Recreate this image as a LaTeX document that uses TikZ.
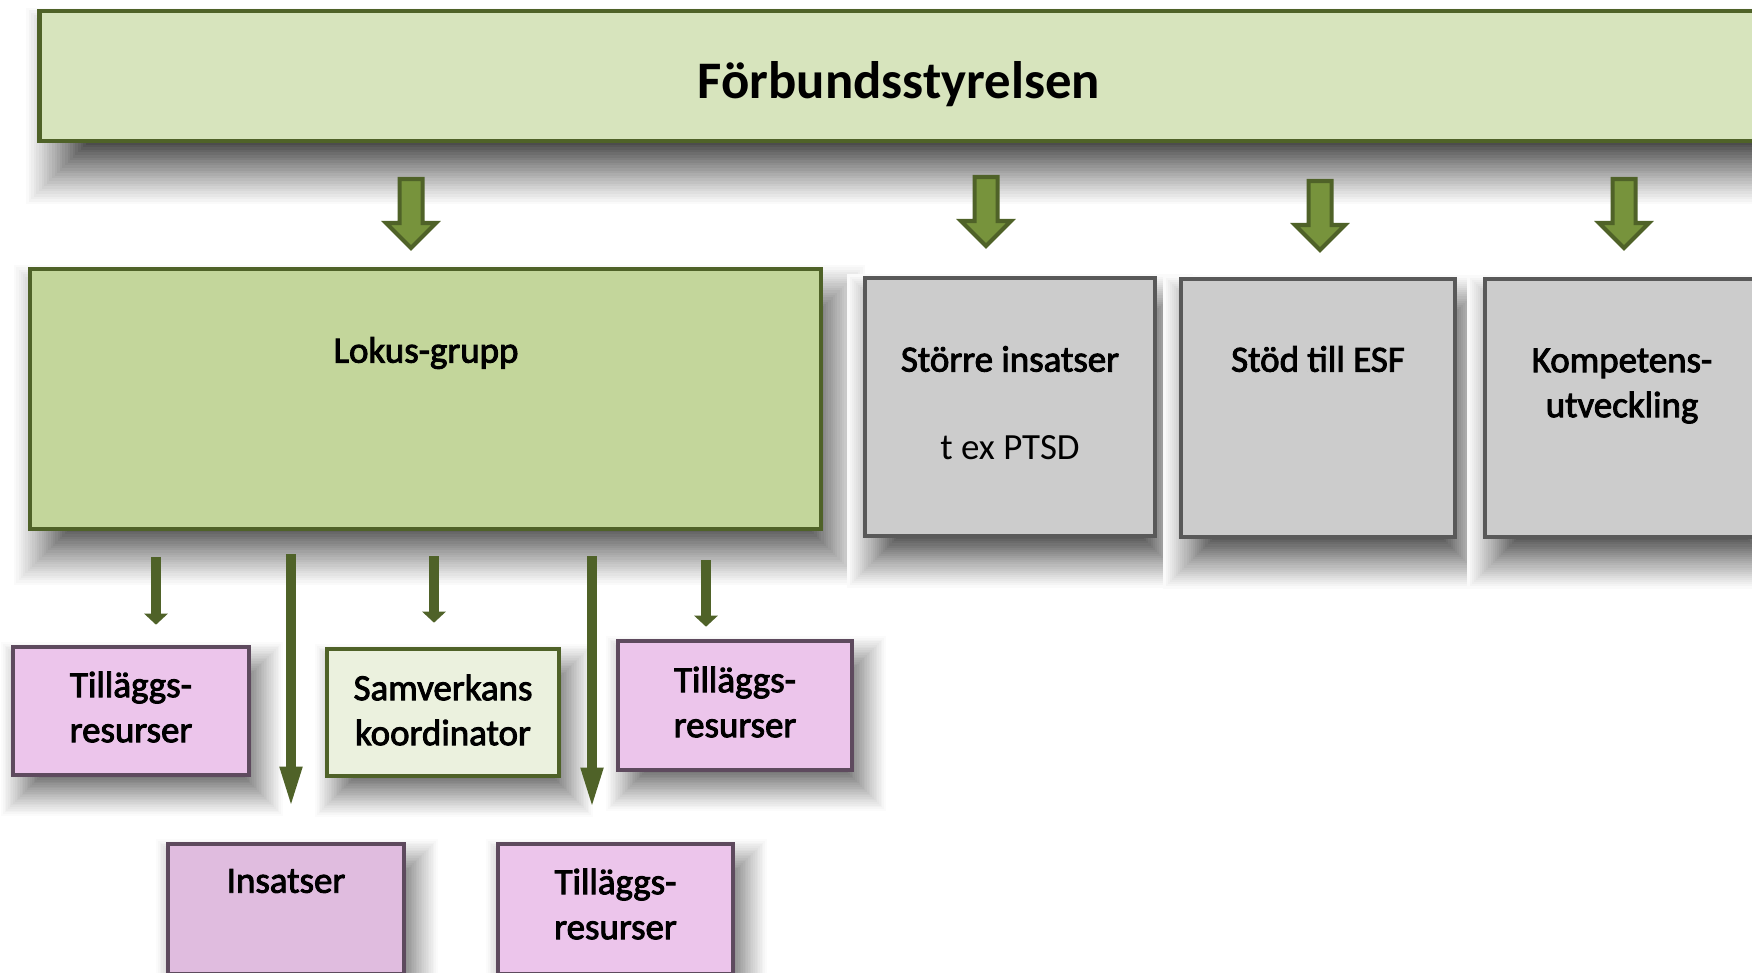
\documentclass[tikz,border=0pt]{standalone}
\usepackage{fontspec}
\setmainfont{Carlito}
\newfontfamily\labelfont[FakeBold=2.5]{Carlito}
\usetikzlibrary{arrows.meta,calc}
\definecolor{olivedark}{HTML}{4F6228}
\definecolor{topfill}{HTML}{D7E4BD}
\definecolor{lokusfill}{HTML}{C3D69B}
\definecolor{arrowfill}{HTML}{77933C}
\definecolor{grayfill}{HTML}{CCCCCC}
\definecolor{grayedge}{HTML}{595959}
\definecolor{pinkfill}{HTML}{ECC5EB}
\definecolor{pinkdark}{HTML}{E0BCDF}
\definecolor{pinkedge}{HTML}{5E4A5E}
\definecolor{palefill}{HTML}{EBF1DE}
\pgfdeclarelayer{paper}
\pgfdeclarelayer{shade}
\pgfsetlayers{paper,shade,main}
% soft drop shadow drawn as nested opaque greys on white:
% node, dx, dy, step, darkest percent
\newcommand\dropshadow[5]{%
  \begin{pgfonlayer}{shade}
  \foreach \k in {0,...,23}{%
    \pgfmathsetmacro\e{(12-\k)*#4}%
    \pgfmathsetmacro\p{#5*((\k+1)/24)^1.1}%
    \pgfmathsetmacro\ax{#2-\e}%
    \pgfmathsetmacro\ay{#3+\e}%
    \pgfmathsetmacro\bx{#2+\e}%
    \pgfmathsetmacro\by{#3-\e}%
    \colorlet{shadecol}{black!\p!white}%
    \fill[shadecol]
      ($(#1.south west)+(\ax,\ay)$) rectangle ($(#1.north east)+(\bx,\by)$);
  }%
  \end{pgfonlayer}}
\begin{document}
\begin{tikzpicture}[x=0.01cm,y=-0.01cm,
  box/.style={draw, rectangle, line width=0.045cm, inner sep=0pt},
  topbox/.style={box, draw=olivedark, fill=topfill},
  lokusbox/.style={box, draw=olivedark, fill=lokusfill},
  graybox/.style={box, draw=grayedge, fill=grayfill},
  pinkbox/.style={box, draw=pinkedge, fill=pinkfill},
  insbox/.style={box, draw=pinkedge, fill=pinkdark},
  palebox/.style={box, draw=olivedark, fill=palefill},
  title/.style={font=\fontsize{15}{18}\selectfont\bfseries, inner sep=0pt},
  lbl/.style={font=\fontsize{10.5}{12.8}\selectfont\labelfont, align=center, inner sep=0pt},
  sublbl/.style={font=\fontsize{10.5}{12.8}\selectfont, align=center, inner sep=0pt},
  bigarrowstyle/.style={draw=olivedark, fill=arrowfill, line width=0.04cm, line join=miter},
  bigarrow/.pic={\path[bigarrowstyle] (-11.5,0) -- (11.5,0) -- (11.5,44) -- (25,44) -- (0,69) -- (-25,44) -- (-11.5,44) -- cycle;},
  thinarr/.style={draw=olivedark, line width=0.1cm, -{Triangle[width=0.23cm,length=0.11cm]}},
  longarr/.style={draw=olivedark, line width=0.095cm, -{Triangle[width=0.2cm,length=0.42cm]}},
]
\begin{pgfonlayer}{paper}
\fill[white] (0,0) rectangle (1752,973);
\end{pgfonlayer}
\useasboundingbox (0,0) rectangle (1752,973);

% top
\node[topbox, minimum width=17.18cm, minimum height=1.30cm] (top) at (899,76) {};
\node[title] (toptext) at (899,84) {Förbundsstyrelsen};
\dropshadow{top}{20}{30}{2.6}{70}

% big arrows
\pic at (411,179) {bigarrow};
\pic at (986,177) {bigarrow};
\pic at (1320,181) {bigarrow};
\pic at (1624,179) {bigarrow};

% second row
\node[lokusbox, minimum width=7.91cm, minimum height=2.60cm] (lokus) at (425.5,399) {};
\node[lbl] (lokustext) at (426,353) {Lokus-grupp};
\dropshadow{lokus}{14}{26}{2.3}{62}

\node[graybox, minimum width=2.90cm, minimum height=2.58cm] (storre) at (1010,407) {};
\node[lbl] (storretext) at (1010,359) {Större insatser};
\node[sublbl] (ptsd) at (1010,448) {t ex PTSD};
\dropshadow{storre}{10}{24}{2.1}{64}

\node[graybox, minimum width=2.74cm, minimum height=2.58cm] (stod) at (1318,408) {};
\node[lbl] (stodtext) at (1318,359) {Stöd till ESF};
\dropshadow{stod}{10}{24}{2.1}{64}

\node[graybox, minimum width=2.74cm, minimum height=2.58cm] (komp) at (1622,408) {};
\node[lbl] (komptext) at (1622,386) {Kompetens-\\utveckling};
\dropshadow{komp}{10}{24}{2.1}{64}

% third row
\node[pinkbox, minimum width=2.36cm, minimum height=1.28cm] (t1) at (131,711) {};
\node[lbl] (t1text) at (131,707) {Tilläggs-\\resurser};
\dropshadow{t1}{11}{18}{1.7}{55}

\node[palebox, minimum width=2.32cm, minimum height=1.27cm] (samv) at (443,712.5) {};
\node[lbl] (samvtext) at (443,710) {Samverkans\\koordinator};
\dropshadow{samv}{11}{18}{1.7}{55}

\node[pinkbox, minimum width=2.34cm, minimum height=1.29cm] (t2) at (735,705.5) {};
\node[lbl] (t2text) at (735,702) {Tilläggs-\\resurser};
\dropshadow{t2}{11}{18}{1.7}{55}

% fourth row
\node[insbox, minimum width=2.36cm, minimum height=1.30cm] (ins) at (286,909) {};
\node[lbl] (instext) at (286,881) {Insatser};
\dropshadow{ins}{11}{18}{1.7}{55}

\node[pinkbox, minimum width=2.35cm, minimum height=1.30cm] (t3) at (615.5,909) {};
\node[lbl] (t3text) at (615.5,904) {Tilläggs-\\resurser};
\dropshadow{t3}{11}{18}{1.7}{55}

% connectors
\draw[thinarr, shorten <=0.26cm, shorten >=0.20cm] ($(lokus.south -| t1.north)+(25,0)$) -- ($(t1.north)+(25,0)$);
\draw[longarr, shorten <=0.23cm, shorten >=0.33cm] ($(lokus.south -| ins.north)+(5,0)$) -- ($(ins.north)+(5,0)$);
\draw[thinarr, shorten <=0.25cm, shorten >=0.24cm] ($(lokus.south -| samv.north)+(-9,0)$) -- ($(samv.north)+(-9,0)$);
\draw[longarr, shorten <=0.25cm, shorten >=0.32cm] ($(lokus.south -| t3.north)+(-23.5,0)$) -- ($(t3.north)+(-23.5,0)$);
\draw[thinarr, shorten <=0.29cm, shorten >=0.12cm] ($(lokus.south -| t2.north)+(-29,0)$) -- ($(t2.north)+(-29,0)$);
\end{tikzpicture}
\end{document}
